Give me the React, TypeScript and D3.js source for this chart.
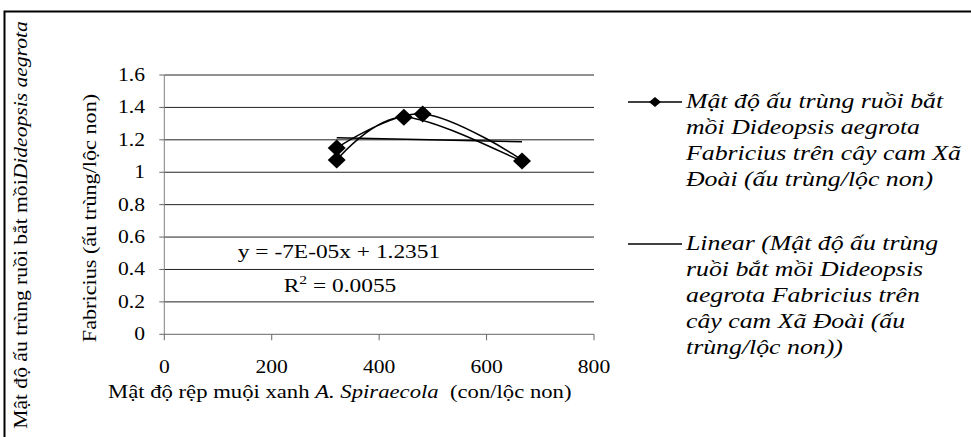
import React from "react";
import * as d3 from "d3";

// Data (order as plotted)
const xVals = [321, 481, 666, 446, 321];
const yVals = [1.149, 1.36, 1.07, 1.34, 1.075];
const xTicks = [0, 200, 400, 600, 800];
const yTicks = [0, 0.2, 0.4, 0.6, 0.8, 1, 1.2, 1.4, 1.6];
const trendSlope = -0.00007;
const trendIntercept = 1.2351;
const eqLabel = "y = -7E-05x + 1.2351";
const r2Value = "0.0055";
const legend1 = [
  "Mật độ ấu trùng ruồi bắt",
  "mồi Dideopsis aegrota",
  "Fabricius trên cây cam Xã",
  "Đoài (ấu trùng/lộc non)",
];
const legend2 = [
  "Linear (Mật độ ấu trùng",
  "ruồi bắt mồi Dideopsis",
  "aegrota Fabricius trên",
  "cây cam Xã Đoài (ấu",
  "trùng/lộc non))",
];

const W = 971;
const H = 437;
const FONT = "'Liberation Serif', 'Times New Roman', serif";

function T(props: any) {
  const { x, y, anchor = "start", size = 18, italic = false, sx = 1.2, children } = props;
  return (
    <text
      transform={`translate(${x},${y}) scale(${sx},1)`}
      textAnchor={anchor}
      fontFamily={FONT}
      fontSize={size}
      fontStyle={italic ? "italic" : "normal"}
      fill="#000"
    >
      {children}
    </text>
  );
}

export default function App() {
  const x = d3.scaleLinear().domain([0, 800]).range([164.3, 594]);
  const y = d3.scaleLinear().domain([0, 1.6]).range([334.3, 75]);

  const pts: [number, number][] = xVals.map((v, i) => [x(v), y(yVals[i])]);
  const line = d3.line().curve(d3.curveCardinal.tension(0))(pts) || "";

  const xMin = d3.min(xVals) as number;
  const xMax = d3.max(xVals) as number;
  const trend = d3.line()([
    [x(xMin), y(trendSlope * xMin + trendIntercept)],
    [x(xMax), y(trendSlope * xMax + trendIntercept)],
  ]) || "";

  const diamond = (cx: number, cy: number, rx: number, ry: number) =>
    `M${cx},${cy - ry}L${cx + rx},${cy}L${cx},${cy + ry}L${cx - rx},${cy}Z`;

  const [x0, x1] = x.range();

  return (
    <svg
      width={W}
      height={H}
      style={{ position: "absolute", left: 0, top: 0, display: "block", background: "#fff" }}
    >
      <rect x={0} y={0} width={W} height={H} fill="#fff" />
      {/* frame */}
      <path d={`M4.5,${H}V11.5H${W}`} fill="none" stroke="#000" strokeWidth={2} />

      {/* gridlines */}
      {yTicks.slice(1).map((t) => (
        <line key={"g" + t} x1={x0} x2={x1} y1={y(t)} y2={y(t)} stroke="#222" strokeWidth={1} />
      ))}
      {/* axes */}
      <line x1={x0} x2={x0} y1={y(1.6)} y2={y(0)} stroke="#808080" strokeWidth={1} />
      <line x1={x0} x2={x1} y1={y(0)} y2={y(0)} stroke="#666" strokeWidth={1} />
      {yTicks.map((t) => (
        <line key={"yt" + t} x1={x0 - 5} x2={x0} y1={y(t)} y2={y(t)} stroke="#666" strokeWidth={1} />
      ))}
      {xTicks.map((t) => (
        <line key={"xt" + t} x1={x(t)} x2={x(t)} y1={y(0)} y2={y(0) + 6} stroke="#666" strokeWidth={1} />
      ))}

      {/* tick labels */}
      {yTicks.map((t) => (
        <T key={"yl" + t} x={145} y={y(t) + 6} anchor="end">
          {d3.format("")(+t.toFixed(1))}
        </T>
      ))}
      {xTicks.map((t) => (
        <T key={"xl" + t} x={x(t)} y={373} anchor="middle">
          {String(t)}
        </T>
      ))}

      {/* trend line */}
      <path d={trend} fill="none" stroke="#000" strokeWidth={1.5} />
      {/* series */}
      <path d={line} fill="none" stroke="#000" strokeWidth={1.5} />
      {pts.map(([px, py], i) => (
        <path key={"m" + i} d={diamond(px, py, 9, 8.5)} fill="#000" />
      ))}

      {/* equation */}
      <T x={339} y={258} anchor="middle" sx={1.3}>{eqLabel}</T>
      <text
        transform={`translate(340,292) scale(1.3,1)`}
        textAnchor="middle"
        fontFamily={FONT}
        fontSize={18}
        fill="#000"
      >
        R<tspan dy={-8} fontSize={12}>2</tspan>
        <tspan dy={8}>{" = " + r2Value}</tspan>
      </text>

      {/* x title */}
      <text
        transform={`translate(108,398) scale(1.26,1)`}
        fontFamily={FONT}
        fontSize={18}
        fill="#000"
      >
        Mật độ rệp muội xanh <tspan fontStyle="italic">A. Spiraecola</tspan>
        {"\u00a0 (con/lộc non)"}
      </text>

      {/* y title */}
      <text
        transform={`translate(27,225) rotate(-90) scale(1.2,1)`}
        textAnchor="middle"
        fontFamily={FONT}
        fontSize={18}
        fill="#000"
      >
        Mật độ ấu trùng ruồi bắt mồi<tspan fontStyle="italic">Dideopsis aegrota</tspan>
      </text>
      <text
        transform={`translate(96,218) rotate(-90) scale(1.2,1)`}
        textAnchor="middle"
        fontFamily={FONT}
        fontSize={18.5}
        fill="#000"
      >
        Fabricius (ấu trùng/lộc non)
      </text>

      {/* legend */}
      <line x1={628} x2={682} y1={102} y2={102} stroke="#000" strokeWidth={1.5} />
      <path d={diamond(655, 102, 6, 5)} fill="#000" />
      {legend1.map((s, i) => (
        <T key={"l1" + i} x={686} y={108 + i * 26} italic size={21.5} sx={1.2}>
          {s}
        </T>
      ))}
      <line x1={628} x2={682} y1={244} y2={244} stroke="#000" strokeWidth={1.5} />
      {legend2.map((s, i) => (
        <T key={"l2" + i} x={686} y={250 + i * 26} italic size={21.5} sx={1.2}>
          {s}
        </T>
      ))}
    </svg>
  );
}
